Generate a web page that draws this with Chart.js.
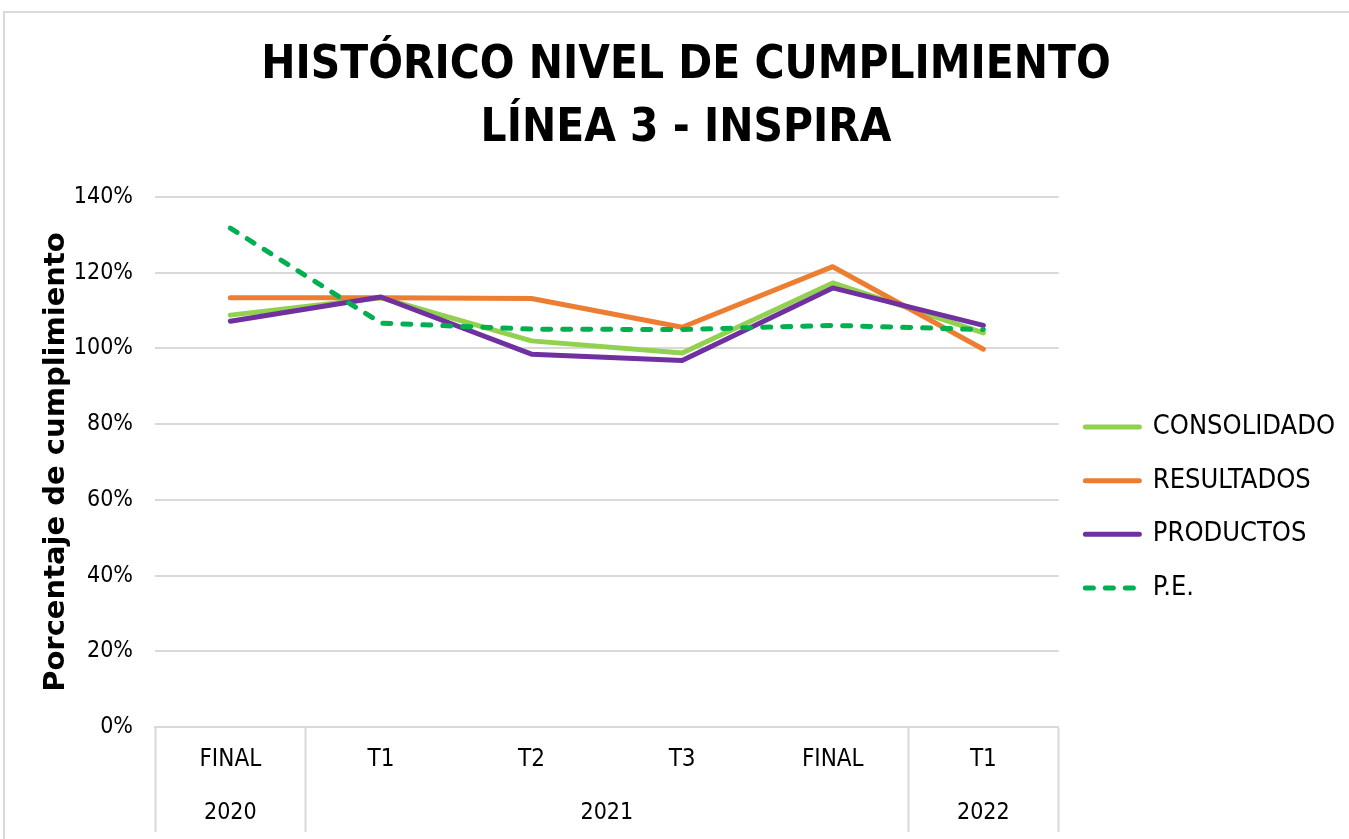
<!DOCTYPE html>
<html><head><meta charset="utf-8">
<script src="https://cdn.jsdelivr.net/npm/chart.js@4.4.1/dist/chart.umd.min.js"></script>
<style>
html,body{margin:0;padding:0;background:#fff;overflow:hidden;width:1349px;height:839px;}
#frame{position:absolute;left:3px;top:11px;width:1400px;height:900px;border-left:2px solid #d9d9d9;border-top:2px solid #d9d9d9;}
#c{position:absolute;left:0;top:0;}
</style></head><body>
<div id="frame"><canvas id="c" width="1343" height="840" style="width:1343px;height:840px"></canvas></div>
<script>
const categories = ['FINAL', 'T1', 'T2', 'T3', 'FINAL', 'T1'];
const categoryYears = ['2020', '2021', '2021', '2021', '2021', '2022'];
const consolidado = [108.8, 113.4, 102.0, 98.8, 117.3, 104.1];
const resultados = [113.4, 113.4, 113.2, 105.6, 121.6, 99.8];
const productos = [107.2, 113.6, 98.5, 96.8, 116.0, 106.1];
const planEstrategico = [131.8, 106.7, 105.1, 105.0, 106.1, 105.0];
const seriesNames = ['CONSOLIDADO', 'RESULTADOS', 'PRODUCTOS', 'P.E.'];
const yTicks = [0, 20, 40, 60, 80, 100, 120, 140];

// year groups derived from the category years
const groups = [];
categoryYears.forEach((y, i) => {
  const last = groups[groups.length - 1];
  if (last && last.year === y) last.end = i; else groups.push({year: y, start: i, end: i});
});
groups.forEach(g => g.center = (g.start + g.end) / 2);
const boundaries = new Set([0, categories.length]);
for (let i = 1; i < categoryYears.length; i++) if (categoryYears[i] !== categoryYears[i - 1]) boundaries.add(i);

const cond = 'DejaVu Sans Condensed, DejaVu Sans, sans-serif';

function ds(label, data, color, order, dash) {
  return {
    label, data, borderColor: color, backgroundColor: color, borderWidth: 5,
    pointRadius: 0, pointHoverRadius: 0, tension: 0, fill: false,
    borderCapStyle: 'round', borderJoinStyle: 'round', borderDash: dash || [],
    order, xAxisID: 'x', yAxisID: 'y'
  };
}

new Chart(document.getElementById('c'), {
  type: 'line',
  data: {
    labels: categories,
    datasets: [
      ds(seriesNames[0], consolidado, '#92D050', 3),
      ds(seriesNames[1], resultados, '#ED7D31', 2),
      ds(seriesNames[2], productos, '#7030A0', 1),
      ds(seriesNames[3], planEstrategico, '#00B050', 0, [8, 12])
    ]
  },
  options: {
    responsive: false,
    animation: false,
    devicePixelRatio: 1,
    layout: {padding: {left: 22, right: 3, top: 0, bottom: 0}},
    plugins: {
      tooltip: {enabled: false},
      title: {
        display: true,
        text: ['HISTÓRICO NIVEL DE CUMPLIMIENTO', 'LÍNEA 3 - INSPIRA'],
        color: '#000',
        font: {family: cond, weight: 'bold', size: 45.5, lineHeight: 1.385},
        padding: {top: 21.5, bottom: 36.5}
      },
      legend: {
        position: 'right',
        align: 'center',
        title: {display: true, text: '', font: {size: 1}, padding: {top: 147.8, bottom: 0}},
        labels: {
          boxWidth: 54, boxHeight: 0, padding: 26.7, color: '#000',
          font: {family: cond, size: 27},
          sort: (a, b) => a.datasetIndex - b.datasetIndex
        }
      }
    },
    scales: {
      y: {
        min: 0, max: 140,
        afterBuildTicks: s => { s.ticks = yTicks.map(v => ({value: v})); },
        ticks: {callback: v => v + '%', color: '#000', font: {family: cond, size: 23}, padding: 22},
        grid: {color: '#d9d9d9', lineWidth: 2, drawTicks: false},
        border: {display: false},
        title: {display: true, text: 'Porcentaje de cumplimiento', color: '#000',
          font: {family: 'DejaVu Sans, sans-serif', weight: 'bold', size: 29}, padding: {top: 11.6, bottom: 0}},
        afterFit: s => { s.width = 128; }
      },
      x: {
        type: 'category',
        position: 'bottom',
        weight: 0,
        offset: true,
        grid: {
          offset: true, drawOnChartArea: false, drawTicks: true, tickLength: 105, tickWidth: 2,
          tickColor: ctx => boundaries.has(ctx.index === undefined ? categories.length : ctx.index) ? '#d9d9d9' : 'rgba(0,0,0,0)'
        },
        border: {display: true, color: '#d9d9d9', width: 2},
        ticks: {color: '#000', font: {family: cond, size: 24}, padding: -86.4, autoSkip: false, maxRotation: 0},
        afterFit: s => { s.height = 46; }
      },
      x2: {
        type: 'linear',
        position: 'bottom',
        weight: 1,
        min: -0.5, max: 5.5,
        grid: {display: false, drawTicks: false},
        border: {display: false},
        afterBuildTicks: s => { s.ticks = groups.map(g => ({value: g.center})); },
        ticks: {color: '#000', font: {family: cond, size: 23}, padding: 26.2, autoSkip: false, maxRotation: 0,
          callback: (v, i) => groups[i] ? groups[i].year : ''}
      }
    }
  }
});
</script>
</body></html>
